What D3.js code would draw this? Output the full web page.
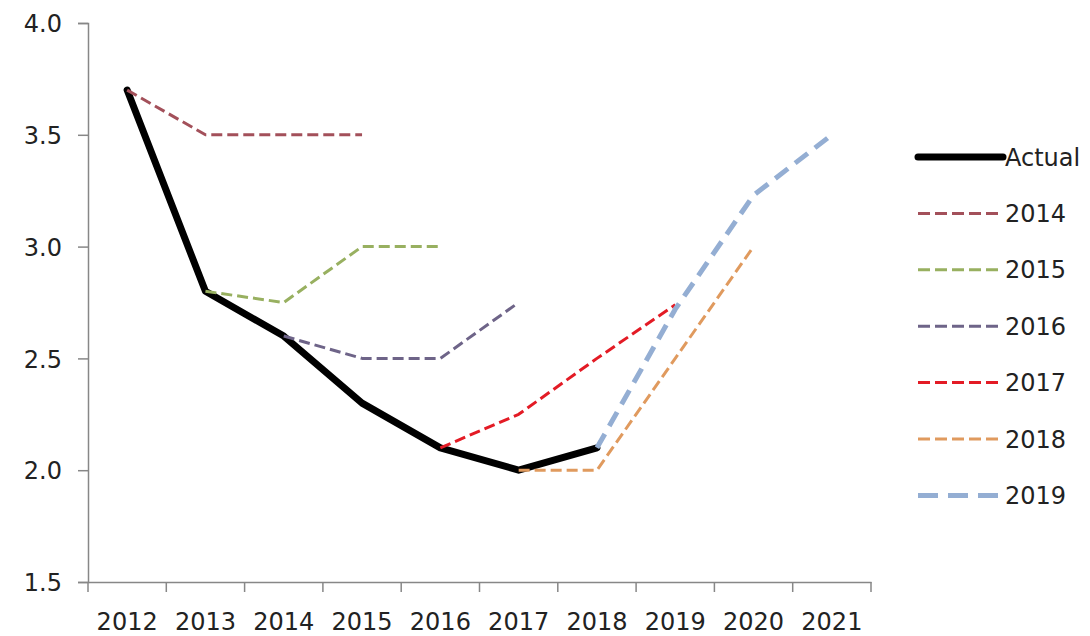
<!DOCTYPE html>
<html><head><meta charset="utf-8">
<script src="https://cdn.jsdelivr.net/npm/d3@7"></script>
<style>body{margin:0;background:#fff}svg text{font-family:"DejaVu Sans",Verdana,sans-serif;fill:#222}</style>
</head><body><svg id="c" width="1090" height="636"></svg>
<script>
const years = ["2012","2013","2014","2015","2016","2017","2018","2019","2020","2021"];
const yTicks = [1.5,2.0,2.5,3.0,3.5,4.0];
const actual = [[2012,3.7],[2013,2.8],[2014,2.6],[2015,2.3],[2016,2.1],[2017,2.0],[2018,2.1]];
const f2014 = [[2012,3.7],[2013,3.5],[2014,3.5],[2015,3.5]];
const f2015 = [[2013,2.8],[2014,2.75],[2015,3.0],[2016,3.0]];
const f2016 = [[2014,2.6],[2015,2.5],[2016,2.5],[2017,2.75]];
const f2017 = [[2016,2.1],[2017,2.25],[2018,2.5],[2019,2.74]];
const f2018 = [[2017,2.0],[2018,2.0],[2019,2.5],[2020,3.0]];
const f2019 = [[2018,2.1],[2019,2.72],[2020,3.23],[2021,3.5]];
const seriesNames = ["Actual","2014","2015","2016","2017","2018","2019"];

const styles = {
  "Actual":{c:"#000",w:7,d:null},
  "2014":{c:"#a3505a",w:3,d:"11,5"},
  "2015":{c:"#98b060",w:3,d:"11,5"},
  "2016":{c:"#6e6488",w:3,d:"11,5"},
  "2017":{c:"#e31b25",w:3,d:"11,5"},
  "2018":{c:"#e09a5e",w:3,d:"11,5"},
  "2019":{c:"#94aed3",w:5,d:"16,9"}
};
const data = {"Actual":actual,"2014":f2014,"2015":f2015,"2016":f2016,"2017":f2017,"2018":f2018,"2019":f2019};

const svg = d3.select("#c");
const L=88,R=871,T=23,B=582;
const x = d3.scaleBand().domain(years).range([L,R]);
const y = d3.scaleLinear().domain([1.5,4.0]).range([B,T]);
const axisColor="#878787";
const FS="24px";

// y axis
const ya = svg.append("g").attr("transform",`translate(${L},0)`)
  .call(d3.axisLeft(y).tickValues(yTicks).tickFormat(d3.format(".1f")).tickSize(10).tickPadding(16));
ya.select(".domain").attr("stroke",axisColor).attr("stroke-width",1.5);
ya.selectAll(".tick line").attr("stroke",axisColor).attr("stroke-width",1.5);
ya.selectAll("text").style("font-size",FS).attr("dy","0.36em").attr("fill","#222");

// x axis
const xa = svg.append("g").attr("transform",`translate(0,${B})`)
  .call(d3.axisBottom(x).tickSize(0).tickSizeOuter(0).tickPadding(34));
xa.select(".domain").attr("stroke",axisColor).attr("stroke-width",1.5);
xa.selectAll("text").style("font-size",FS).attr("fill","#222").attr("dy","0.6em");
// boundary ticks between categories
const bounds = years.map(yy=>x(yy)).concat([R]);
xa.selectAll(".bt").data(bounds).enter().append("line")
  .attr("x1",d=>d).attr("x2",d=>d).attr("y1",0).attr("y2",10)
  .attr("stroke",axisColor).attr("stroke-width",1.5);

const line = d3.line().x(d=>x(String(d[0]))+x.bandwidth()/2).y(d=>y(d[1]));
const order = ["Actual","2014","2015","2016","2017","2018","2019"];
order.forEach(n=>{
  const s=styles[n];
  svg.append("path").datum(data[n]).attr("d",line).attr("fill","none")
    .attr("stroke",s.c).attr("stroke-width",s.w).attr("stroke-dasharray",s.d)
    .attr("stroke-linejoin","round").attr("stroke-linecap",n==="Actual"?"round":"butt");
});

// legend
const lg = svg.append("g");
seriesNames.forEach((n,i)=>{
  const yy = 157 + i*56.4;
  const s=styles[n];
  lg.append("line").attr("x1",918).attr("x2",1003).attr("y1",yy).attr("y2",yy)
    .attr("stroke",s.c).attr("stroke-width",n==="Actual"?7:(n==="2019"?5:3))
    .attr("stroke-dasharray",n==="Actual"?null:(n==="2019"?"20,10":"12,5"))
    .attr("stroke-linecap",n==="Actual"?"round":"butt");
  lg.append("text").attr("x",1005).attr("y",yy).attr("dy","0.36em")
    .style("font-size",FS).text(n);
});
</script></body></html>
